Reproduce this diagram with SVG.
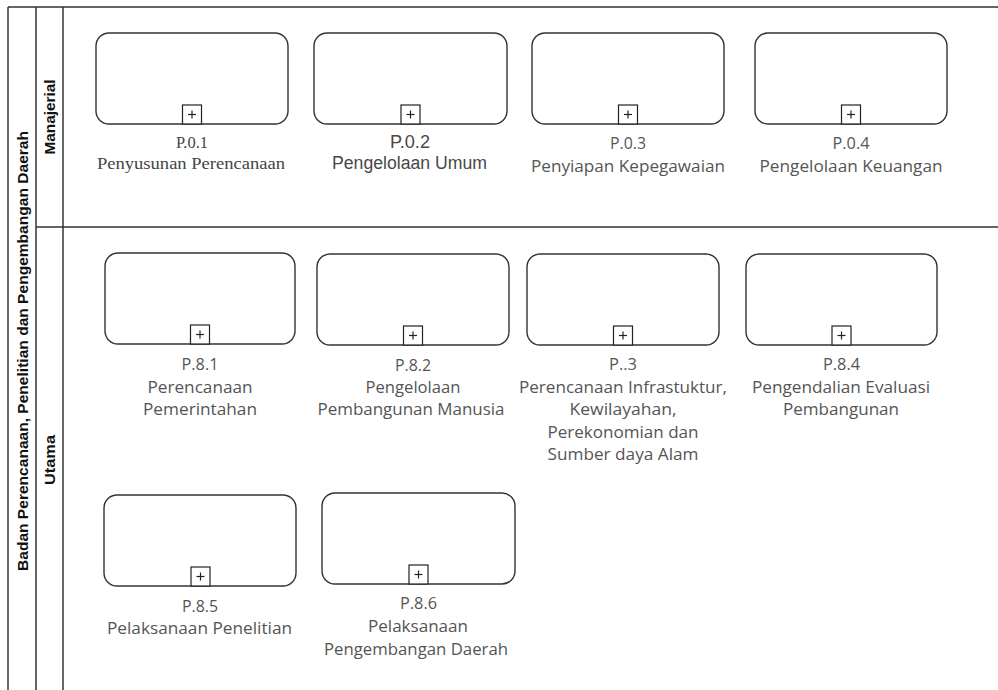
<svg xmlns="http://www.w3.org/2000/svg" width="998" height="690" viewBox="0 0 998 690">
<style>
.pool{fill:none;stroke:#333;stroke-width:1.5}
.task{fill:#fff;stroke:#333;stroke-width:1.4}
.plus{fill:#fff;stroke:#222;stroke-width:1.2}
.pl{stroke:#222;stroke-width:1.2}
.hdr{font-family:"Liberation Sans",Arial,sans-serif;font-weight:bold;font-size:15px;fill:#111;text-anchor:middle}
.lbl{font-family:"Open Sans","Noto Sans",sans-serif;font-size:16px;fill:#555;text-anchor:middle}
.ser{font-family:"Liberation Serif","Times New Roman",serif;font-size:16px;fill:#444;text-anchor:middle}
.ari{font-family:"Liberation Sans",Arial,sans-serif;font-size:18px;fill:#484848;text-anchor:middle}
</style>
<defs>
<g id="mk">
<rect class="plus" x="-9.5" y="-19" width="19" height="19"/>
<line class="pl" x1="-4" y1="-9.5" x2="4" y2="-9.5"/>
<line class="pl" x1="0" y1="-13.5" x2="0" y2="-5.5"/>
</g>
</defs>
<rect width="998" height="690" fill="#fff"/>
<g id="pool">
<line class="pool" x1="8" y1="7" x2="998" y2="7"/>
<line class="pool" x1="8" y1="7" x2="8" y2="690"/>
<line class="pool" x1="36" y1="7" x2="36" y2="690"/>
<line class="pool" x1="63" y1="7" x2="63" y2="690"/>
<line class="pool" x1="36" y1="227" x2="998" y2="227"/>
<text class="hdr" transform="translate(28,351) rotate(-90)" textLength="440" lengthAdjust="spacingAndGlyphs">Badan Perencanaan, Penelitian dan Pengembangan Daerah</text>
<text class="hdr" transform="translate(55,117) rotate(-90)" textLength="75" lengthAdjust="spacingAndGlyphs">Manajerial</text>
<text class="hdr" transform="translate(55,460) rotate(-90)" textLength="50" lengthAdjust="spacingAndGlyphs">Utama</text>
</g>
<g id="connectors"></g>
<g id="P01">
<rect class="task" x="96" y="33" width="192" height="91" rx="13"/>
<use href="#mk" x="192" y="124"/>
<text class="ser" x="192" y="148" textLength="32" lengthAdjust="spacingAndGlyphs">P.0.1</text>
<text class="ser" x="191" y="169" textLength="188" lengthAdjust="spacingAndGlyphs">Penyusunan Perencanaan</text>
</g>
<g id="P02">
<rect class="task" x="314" y="33" width="193" height="91" rx="13"/>
<use href="#mk" x="410.5" y="124"/>
<text class="ari" x="410" y="148" textLength="40" lengthAdjust="spacingAndGlyphs">P.0.2</text>
<text class="ari" x="409.5" y="169" textLength="155" lengthAdjust="spacingAndGlyphs">Pengelolaan Umum</text>
</g>
<g id="P03">
<rect class="task" x="532" y="33" width="192" height="91" rx="13"/>
<use href="#mk" x="628" y="124"/>
<text class="lbl" x="628" y="149" textLength="36" lengthAdjust="spacingAndGlyphs">P.0.3</text>
<text class="lbl" x="628" y="172" textLength="194" lengthAdjust="spacingAndGlyphs">Penyiapan Kepegawaian</text>
</g>
<g id="P04">
<rect class="task" x="755" y="33" width="192" height="91" rx="13"/>
<use href="#mk" x="851" y="124"/>
<text class="lbl" x="851" y="149" textLength="37" lengthAdjust="spacingAndGlyphs">P.0.4</text>
<text class="lbl" x="851" y="172" textLength="183" lengthAdjust="spacingAndGlyphs">Pengelolaan Keuangan</text>
</g>
<g id="P81">
<rect class="task" x="105" y="253" width="190" height="91" rx="13"/>
<use href="#mk" x="200" y="344"/>
<text class="lbl" x="200" y="370" textLength="37" lengthAdjust="spacingAndGlyphs">P.8.1</text>
<text class="lbl" x="200" y="393" textLength="105" lengthAdjust="spacingAndGlyphs">Perencanaan</text>
<text class="lbl" x="200" y="415" textLength="114" lengthAdjust="spacingAndGlyphs">Pemerintahan</text>
</g>
<g id="P82">
<rect class="task" x="317" y="254" width="192" height="91" rx="13"/>
<use href="#mk" x="413" y="345"/>
<text class="lbl" x="413" y="371" textLength="36" lengthAdjust="spacingAndGlyphs">P.8.2</text>
<text class="lbl" x="413" y="393" textLength="95" lengthAdjust="spacingAndGlyphs">Pengelolaan</text>
<text class="lbl" x="411" y="415" textLength="187" lengthAdjust="spacingAndGlyphs">Pembangunan Manusia</text>
</g>
<g id="P83">
<rect class="task" x="527" y="254" width="192" height="91" rx="13"/>
<use href="#mk" x="623" y="345"/>
<text class="lbl" x="623" y="370" textLength="28" lengthAdjust="spacingAndGlyphs">P..3</text>
<text class="lbl" x="623" y="393" textLength="208" lengthAdjust="spacingAndGlyphs">Perencanaan Infrastuktur,</text>
<text class="lbl" x="623" y="415" textLength="107" lengthAdjust="spacingAndGlyphs">Kewilayahan,</text>
<text class="lbl" x="623" y="438" textLength="151" lengthAdjust="spacingAndGlyphs">Perekonomian dan</text>
<text class="lbl" x="623" y="460" textLength="151" lengthAdjust="spacingAndGlyphs">Sumber daya Alam</text>
</g>
<g id="P84">
<rect class="task" x="746" y="254" width="191" height="91" rx="13"/>
<use href="#mk" x="841.5" y="345"/>
<text class="lbl" x="841.5" y="370" textLength="37" lengthAdjust="spacingAndGlyphs">P.8.4</text>
<text class="lbl" x="841" y="393" textLength="178" lengthAdjust="spacingAndGlyphs">Pengendalian Evaluasi</text>
<text class="lbl" x="841" y="415" textLength="116" lengthAdjust="spacingAndGlyphs">Pembangunan</text>
</g>
<g id="P85">
<rect class="task" x="104" y="495" width="192" height="91" rx="13"/>
<use href="#mk" x="200.5" y="586"/>
<text class="lbl" x="200" y="612" textLength="36" lengthAdjust="spacingAndGlyphs">P.8.5</text>
<text class="lbl" x="199.5" y="634" textLength="185" lengthAdjust="spacingAndGlyphs">Pelaksanaan Penelitian</text>
</g>
<g id="P86">
<rect class="task" x="322" y="493" width="193" height="91" rx="13"/>
<use href="#mk" x="418.5" y="584"/>
<text class="lbl" x="418.5" y="609" textLength="37" lengthAdjust="spacingAndGlyphs">P.8.6</text>
<text class="lbl" x="418" y="632" textLength="100" lengthAdjust="spacingAndGlyphs">Pelaksanaan</text>
<text class="lbl" x="416" y="655" textLength="184" lengthAdjust="spacingAndGlyphs">Pengembangan Daerah</text>
</g>
</svg>
